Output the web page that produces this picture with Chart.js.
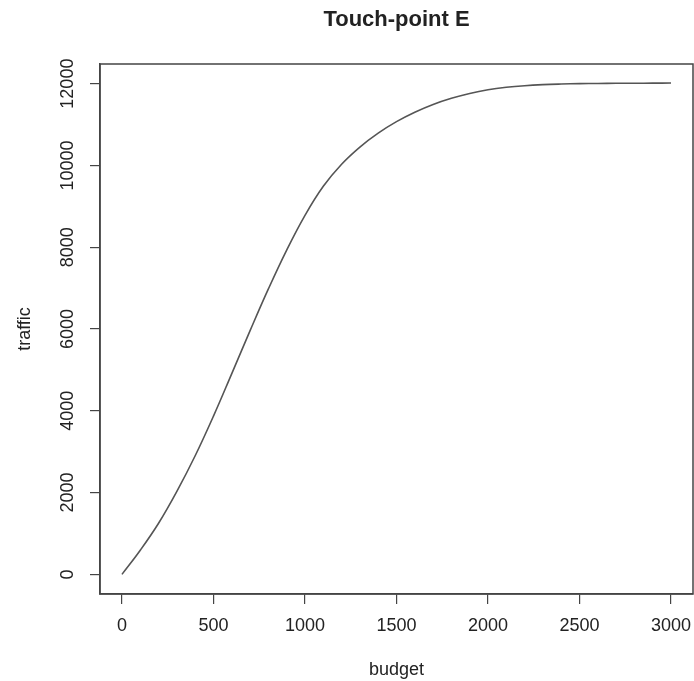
<!DOCTYPE html>
<html>
<head>
<meta charset="utf-8">
<script src="https://cdn.jsdelivr.net/npm/chart.js@4"></script>
<style>
  html, body { margin: 0; padding: 0; background: #fff; }
  #wrap { width: 694px; height: 681px; }
</style>
</head>
<body>
<div id="wrap"><canvas id="line-chart" width="694" height="681"></canvas></div>
<script>
// budget vs traffic
var budget = [0, 100, 200, 300, 400, 500, 600, 700, 800, 900, 1000,
  1100, 1200, 1300, 1400, 1500, 1600, 1700, 1800, 1900, 2000,
  2100, 2200, 2300, 2400, 2500, 2600, 2700, 2800, 2900, 3000];
var traffic = [0, 590, 1250, 2030, 2900, 3870, 4910, 5960, 6980, 7930, 8780,
  9490, 10030, 10450, 10790, 11070, 11300, 11490, 11640, 11760, 11850,
  11910, 11950, 11975, 11990, 12000, 12005, 12008, 12010, 12012, 12014];

var xTicks = [0, 500, 1000, 1500, 2000, 2500, 3000];
var yTicks = [0, 2000, 4000, 6000, 8000, 10000, 12000];

var points = [];
for (var i = 0; i < budget.length; i++) {
  points.push({x: budget[i], y: traffic[i]});
}

var textFont = {family: "'Liberation Sans', Arial, sans-serif", size: 18};

// R style box round the plot region
var boxPlugin = {
  id: 'box',
  afterDraw: function(chart) {
    var a = chart.chartArea;
    var ctx = chart.ctx;
    ctx.save();
    ctx.strokeStyle = '#444';
    ctx.lineWidth = 1.5;
    ctx.strokeRect(a.left, a.top, a.right - a.left, a.bottom - a.top);
    ctx.restore();
  }
};

new Chart(document.getElementById("line-chart"), {
  type: 'line',
  data: {
    datasets: [{
      data: points,
      borderColor: '#555',
      borderWidth: 1.6,
      pointRadius: 0,
      fill: false,
      tension: 0.4
    }]
  },
  options: {
    responsive: false,
    animation: false,
    layout: {padding: {left: 0, right: 1, top: 0, bottom: 0}},
    plugins: {
      legend: {display: false},
      tooltip: {enabled: false},
      title: {
        display: true,
        fullSize: false,
        text: 'Touch-point E',
        color: '#222',
        font: {family: textFont.family, size: 22, weight: 'bold', lineHeight: 1.2},
        padding: {top: 7, bottom: 30.6}
      }
    },
    scales: {
      x: {
        type: 'linear',
        min: -120,
        max: 3120,
        afterBuildTicks: function(scale) {
          scale.ticks = xTicks.map(function(v) { return {value: v}; });
        },
        afterFit: function(scale) {
          scale.height = 87;
          scale.paddingLeft = 0;
          scale.paddingRight = 0;
        },
        ticks: {
          autoSkip: false,
          maxRotation: 0,
          padding: 11,
          color: '#222',
          font: textFont,
          callback: function(v) { return String(v); }
        },
        grid: {display: true, drawOnChartArea: false, drawTicks: true, tickLength: 10, color: '#444', lineWidth: 1.2},
        border: {display: true, color: '#444', width: 1.5},
        title: {display: true, text: 'budget', color: '#222', font: textFont, padding: {top: 0, bottom: 0}}
      },
      y: {
        type: 'linear',
        min: -480,
        max: 12480,
        afterBuildTicks: function(scale) {
          scale.ticks = yTicks.map(function(v) { return {value: v}; });
        },
        afterFit: function(scale) {
          scale.width = 100;
          scale.paddingTop = 0;
          scale.paddingBottom = 0;
        },
        ticks: {
          autoSkip: false,
          minRotation: 90,
          maxRotation: 90,
          crossAlign: 'center',
          padding: -3,
          color: '#222',
          font: textFont,
          callback: function(v) { return String(v); }
        },
        grid: {display: true, drawOnChartArea: false, drawTicks: true, tickLength: 10, color: '#444', lineWidth: 1.2},
        border: {display: true, color: '#444', width: 1.5},
        title: {display: true, text: 'traffic', color: '#222', font: textFont, padding: {top: 14, bottom: 0}}
      }
    }
  },
  plugins: [boxPlugin]
});
</script>
</body>
</html>
